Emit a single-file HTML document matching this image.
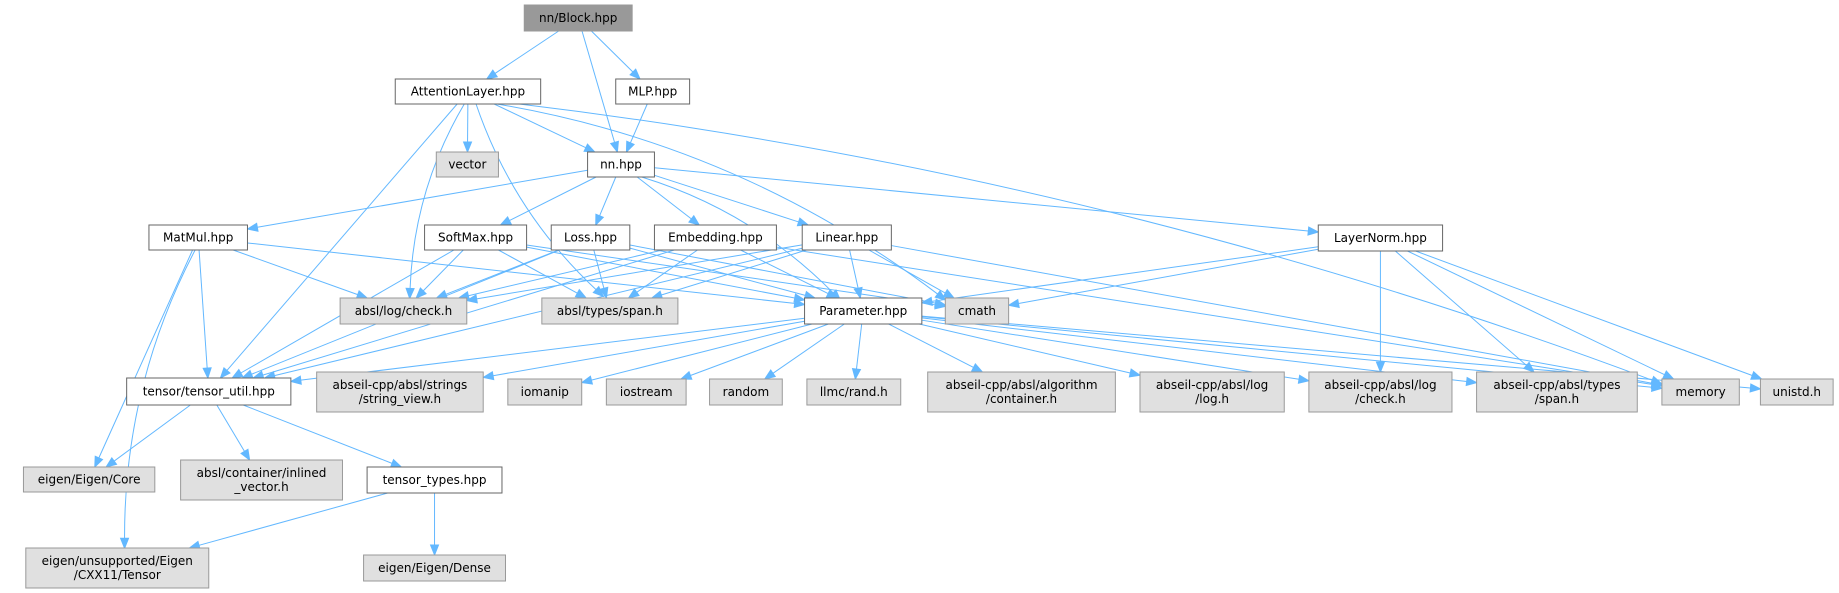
<!DOCTYPE html>
<html><head><meta charset="utf-8"><style>
html,body{margin:0;padding:0;background:#fff;width:1839px;height:593px;overflow:hidden}
svg{display:block}
text{font-family:"DejaVu Sans","Liberation Sans",sans-serif;font-size:12px;fill:#000}
</style></head><body>
<svg id="g" width="1839" height="593" xmlns="http://www.w3.org/2000/svg">
<g id="edges"></g><g id="nodes"></g>
</svg>
<script>
var S=1839/1568;
var N={
blk:[447,5,539,31,"nn/Block.hpp",2],
att:[337,79,461,104,"AttentionLayer.hpp",0],
mlp:[525,79,588,104,"MLP.hpp",0],
vec:[372,152,425,177,"vector",1],
nn:[501,152,558,177,"nn.hpp",0],
mat:[127,225,211,250,"MatMul.hpp",0],
soft:[362,225,449,250,"SoftMax.hpp",0],
loss:[470,225,537,250,"Loss.hpp",0],
emb:[558,225,662,250,"Embedding.hpp",0],
lin:[684,225,760,250,"Linear.hpp",0],
ln:[1124,225,1230,251,"LayerNorm.hpp",0],
chk:[290,298,398,324,"absl/log/check.h",1],
spn:[462,298,578,324,"absl/types/span.h",1],
par:[686,298,786,324,"Parameter.hpp",0],
cm:[806,298,860,324,"cmath",1],
tu:[108,378,248,405,"tensor/tensor_util.hpp",0],
sv:[270,372,412,412,"abseil-cpp/absl/strings|/string_view.h",1],
iom:[433,379,496,405,"iomanip",1],
ios:[517,379,585,405,"iostream",1],
rnd:[605,379,667,405,"random",1],
rh:[688,379,768,405,"llmc/rand.h",1],
ctn:[791,372,951,412,"abseil-cpp/absl/algorithm|/container.h",1],
lg:[972,372,1095,412,"abseil-cpp/absl/log|/log.h",1],
ach:[1116,372,1238,412,"abseil-cpp/absl/log|/check.h",1],
asp:[1259,372,1396,412,"abseil-cpp/absl/types|/span.h",1],
mem:[1417,379,1483,405,"memory",1],
uni:[1501,379,1563,405,"unistd.h",1],
core:[20,467,132,492,"eigen/Eigen/Core",1],
inl:[154,460,292,500,"absl/container/inlined|_vector.h",1],
tt:[313,467,428,493,"tensor_types.hpp",0],
ten:[22,548,178,588,"eigen/unsupported/Eigen|/CXX11/Tensor",1],
den:[310,555,431,581,"eigen/Eigen/Dense",1]
};
var E=[["blk","att"],["blk","nn"],["blk","mlp"],["att","vec"],["att","nn"],["att","mem",-1],["att","cm",-1],["att","chk",1],["att","tu"],["att","spn",1],["mlp","nn"],
["nn","mat"],["nn","soft"],["nn","loss"],["nn","emb"],["nn","lin"],["nn","ln"],["nn","par",-1],
["mat","chk"],["mat","tu"],["mat","core"],["mat","ten",1],["mat","par"],
["soft","chk"],["soft","tu"],["soft","spn"],["soft","par"],["soft","cm"],
["loss","chk"],["loss","spn"],["loss","par"],["loss","tu"],["loss","cm"],
["emb","chk"],["emb","spn"],["emb","par"],["emb","tu"],["emb","mem"],
["lin","chk"],["lin","spn"],["lin","par"],["lin","tu"],["lin","cm"],["lin","mem"],
["ln","par"],["ln","cm"],["ln","ach"],["ln","asp"],["ln","mem"],["ln","uni"],
["par","tu"],["par","sv"],["par","iom"],["par","ios"],["par","rnd"],["par","rh"],["par","ctn"],["par","lg"],["par","ach"],["par","asp"],["par","mem"],["par","uni"],
["tu","core"],["tu","inl"],["tu","tt"],["tt","ten"],["tt","den"]];
function R(k){var n=N[k];return {x1:n[0]*S,y1:n[1],x2:n[2]*S,y2:n[3]};}
function clip(b,cx,cy,dx,dy){var hw=(b.x2-b.x1)/2,hh=(b.y2-b.y1)/2;var t=Math.min(dx?hw/Math.abs(dx):1e9,dy?hh/Math.abs(dy):1e9);return [cx+dx*t,cy+dy*t];}
var eh="",nh="",C="#63b8ff";
E.forEach(function(e){var a=R(e[0]),b=R(e[1]);
var ax=(a.x1+a.x2)/2,ay=(a.y1+a.y2)/2,bx=(b.x1+b.x2)/2,by=(b.y1+b.y2)/2;
var dx=bx-ax,dy=by-ay;var p=clip(a,ax,ay,dx,dy),q=clip(b,bx,by,-dx,-dy);
var L=Math.hypot(q[0]-p[0],q[1]-p[1]),ux=(q[0]-p[0])/L,uy=(q[1]-p[1])/L;
var ex=q[0]-ux*10,ey=q[1]-uy*10;
if(e[2]){var mx=(p[0]+ex)/2,my=(p[1]+ey)/2,off=e[2]*Math.min(L*0.12,70);var cx=mx-uy*off,cy=my+ux*off;
eh+='<path d="M'+p[0]+','+p[1]+' Q'+cx+','+cy+' '+ex+','+ey+'" fill="none" stroke="'+C+'" stroke-width="1"/>';
var tx=ex-cx,ty=ey-cy,tl=Math.hypot(tx,ty);ux=tx/tl;uy=ty/tl;q=[ex+ux*10,ey+uy*10];}
else eh+='<line x1="'+p[0]+'" y1="'+p[1]+'" x2="'+ex+'" y2="'+ey+'" stroke="'+C+'" stroke-width="1"/>';
var bx0=q[0]-ux*10,by0=q[1]-uy*10;
eh+='<polygon points="'+q[0]+','+q[1]+' '+(bx0-uy*4)+','+(by0+ux*4)+' '+(bx0+uy*4)+','+(by0-ux*4)+'" fill="'+C+'" stroke="'+C+'"/>';});
for(var k in N){var n=N[k],b=R(k);var fill=n[5]==2?"#999999":n[5]==1?"#e0e0e0":"#ffffff",st=n[5]==0?"#666666":"#999999";
nh+='<rect x="'+b.x1+'" y="'+b.y1+'" width="'+(b.x2-b.x1)+'" height="'+(b.y2-b.y1)+'" fill="'+fill+'" stroke="'+st+'"/>';
var lines=n[4].split("|"),cx=(b.x1+b.x2)/2,cy=(b.y1+b.y2)/2;
lines.forEach(function(t,i){var y=cy+4+(i-(lines.length-1)/2)*14;nh+='<text x="'+cx+'" y="'+y+'" text-anchor="middle">'+t+'</text>';});}
document.getElementById("edges").innerHTML=eh;document.getElementById("nodes").innerHTML=nh;
</script>
</body></html>
